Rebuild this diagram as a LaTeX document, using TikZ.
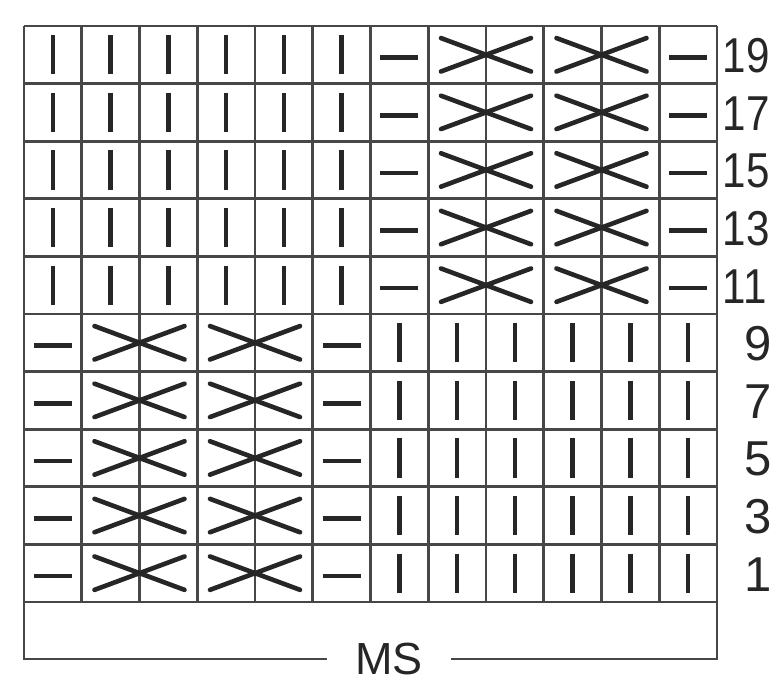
\documentclass[tikz,border=0pt]{standalone}
\usepackage{fontspec}
\newfontfamily\kcfont{Liberation Sans}
\definecolor{kcInk}{HTML}{262626}
\definecolor{kcRule}{HTML}{474747}
\tikzset{
  kc grid/.style={draw=kcRule, line width=2.7pt},
  kc knit/.style={draw=kcInk, line width=4.5pt},
  kc purl/.style={draw=kcInk, line width=4.5pt},
  kc cable/.style={draw=kcInk, line width=4.6pt, line cap=round},
  kc label/.style={font=\kcfont\fontsize{49}{49}\selectfont, text=kcInk, inner sep=0pt},
}

\begin{document}
\begin{tikzpicture}[x=57.75pt, y=-57.6pt]
  % ----- page -----
  \useasboundingbox (-0.416,-0.451) rectangle (12.987,11.458);
  \clip (-0.416,-0.451) rectangle (12.987,11.458);
  \fill[white] (-0.416,-0.451) rectangle (12.987,11.458);
  % ----- grid: 12 stitches, 10 rows -----
  \foreach \i in {0,...,12} \draw[kc grid] (\i,0) -- (\i,10);
  \foreach \j in {0,...,10} \draw[kc grid] (0,\j) -- (12,\j);
  % ----- rows 19 to 11: knit panel left, cables right -----
  \foreach \r in {1,...,5} {
    \foreach \c in {1,...,6} \draw[kc knit] (\c-0.5,\r-0.84) -- (\c-0.5,\r-0.16);
    \draw[kc purl] (6.17,\r-0.45) -- (6.83,\r-0.45);
    \draw[kc purl] (11.17,\r-0.45) -- (11.83,\r-0.45);
    \foreach \cx in {8,10} {
      \draw[kc cable] (\cx-0.78,\r-0.79) -- (\cx+0.78,\r-0.21);
      \draw[kc cable] (\cx-0.78,\r-0.21) -- (\cx+0.78,\r-0.79);
    }
  }
  % ----- rows 9 to 1: cables left, knit panel right -----
  \foreach \r in {6,...,10} {
    \draw[kc purl] (0.17,\r-0.45) -- (0.83,\r-0.45);
    \draw[kc purl] (5.17,\r-0.45) -- (5.83,\r-0.45);
    \foreach \cx in {2,4} {
      \draw[kc cable] (\cx-0.78,\r-0.79) -- (\cx+0.78,\r-0.21);
      \draw[kc cable] (\cx-0.78,\r-0.21) -- (\cx+0.78,\r-0.79);
    }
    \foreach \c in {7,...,12} \draw[kc knit] (\c-0.5,\r-0.84) -- (\c-0.5,\r-0.16);
  }
  % ----- row numbers -----
  \foreach \r [evaluate=\r as \n using int(21-2*\r)] in {1,...,5}
    \node[kc label, anchor=west] (row\n) at (12.1,\r-0.48) {\scalebox{0.86}[1]{\n}};
  \foreach \r [evaluate=\r as \n using int(21-2*\r)] in {6,...,10}
    \node[kc label, anchor=west] (row\n) at (12.48,\r-0.48) {\n};
  % ----- width bracket -----
  \coordinate (chart sw) at (0,10);
  \coordinate (chart se) at (12,10);
  \node[kc label, font=\kcfont\fontsize{45}{45}\selectfont, inner xsep=28pt] (ms) at (6.32,10.99) {MS};
  \draw[kc grid] (chart sw) |- (ms.west);
  \draw[kc grid] (ms.east) -| (chart se);
\end{tikzpicture}
\end{document}
